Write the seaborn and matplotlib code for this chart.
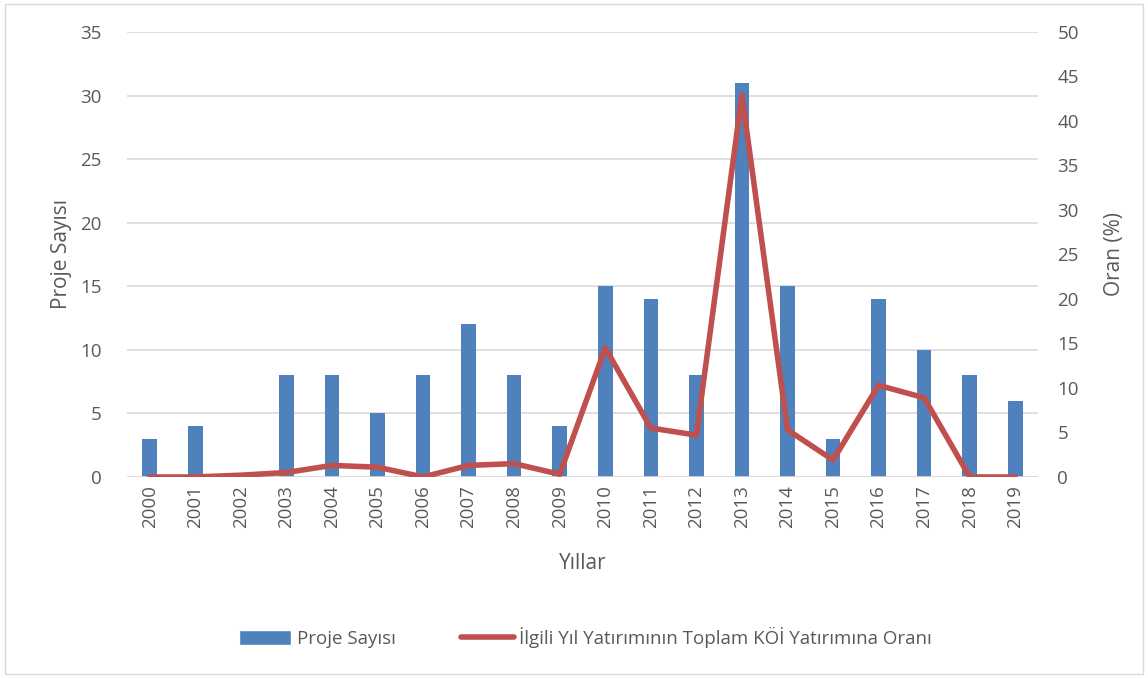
import numpy as np
import pandas as pd
import seaborn as sns
import matplotlib.pyplot as plt
from matplotlib.patches import Rectangle, Patch
from matplotlib.lines import Line2D

years = ['2000', '2001', '2002', '2003', '2004', '2005', '2006', '2007', '2008', '2009',
         '2010', '2011', '2012', '2013', '2014', '2015', '2016', '2017', '2018', '2019']
proje_sayisi = [3, 4, 0, 8, 8, 5, 8, 12, 8, 4, 15, 14, 8, 31, 15, 3, 14, 10, 8, 6]
oran = [0, 0, 0.2, 0.5, 1.3, 1.1, 0, 1.3, 1.5, 0.3,
        14.5, 5.5, 4.7, 42.9, 5.3, 1.9, 10.3, 8.9, 0, 0]

bar_label = 'Proje Sayısı'
line_label = 'İlgili Yıl Yatırımının Toplam KÖİ Yatırımına Oranı'

df = pd.DataFrame({'yil': years, 'idx': np.arange(len(years)),
                   'proje': proje_sayisi, 'oran': oran})

sns.set_style('white')
plt.rcParams['font.family'] = ['Open Sans', 'DejaVu Sans']
txt = '#595959'

fig = plt.figure(figsize=(11.48, 6.78), dpi=100)
ax = fig.add_axes([0.1106, 0.2965, 0.7936, 0.6563])

sns.barplot(data=df, x='yil', y='proje', color='#4f81bd', saturation=1,
            width=0.32, linewidth=0, ax=ax)
ax.set_ylim(0, 35)
ax.set_yticks(range(0, 36, 5))
ax.set_xlim(-0.5, len(years) - 0.5)
ax.grid(axis='y', color='#d9d9d9', linewidth=1.2)
ax.set_axisbelow(True)
for s in ax.spines.values():
    s.set_visible(False)
ax.axhline(0, color='#d9d9d9', linewidth=1.2)
ax.tick_params(axis='x', labelrotation=90, labelsize=13.5, colors=txt, length=0, pad=6)
ax.tick_params(axis='y', labelsize=13.5, colors=txt, length=0, pad=18)
ax.set_xlabel('Yıllar', fontsize=15, color=txt, labelpad=18)
ax.set_ylabel('Proje Sayısı', fontsize=15, color=txt, labelpad=6)

ax2 = ax.twinx()
sns.lineplot(data=df, x='idx', y='oran', color='#c0504d', linewidth=4,
             ax=ax2, legend=False)
ax2.set_ylim(0, 50)
ax2.set_yticks(range(0, 51, 5))
ax2.set_xlim(-0.5, len(years) - 0.5)
for s in ax2.spines.values():
    s.set_visible(False)
ax2.tick_params(axis='y', labelsize=13.5, colors=txt, length=0, pad=14)
ax2.set_ylabel('Oran (%)', fontsize=15, color=txt, labelpad=18)

handles = [Patch(facecolor='#4f81bd', label=bar_label),
           Line2D([0], [0], color='#c0504d', linewidth=4, label=line_label)]
fig.legend(handles=handles, loc='center', bbox_to_anchor=(0.51, 0.06), ncol=2,
           frameon=False, fontsize=13.5, labelcolor=txt, handlelength=2.8,
           handleheight=0.9, columnspacing=3.5, handletextpad=0.3)

fig.patches.append(Rectangle((0.004, 0.006), 0.992, 0.988, transform=fig.transFigure,
                             fill=False, edgecolor='#d9d9d9', linewidth=1))

plt.savefig('out.png', dpi=100)
